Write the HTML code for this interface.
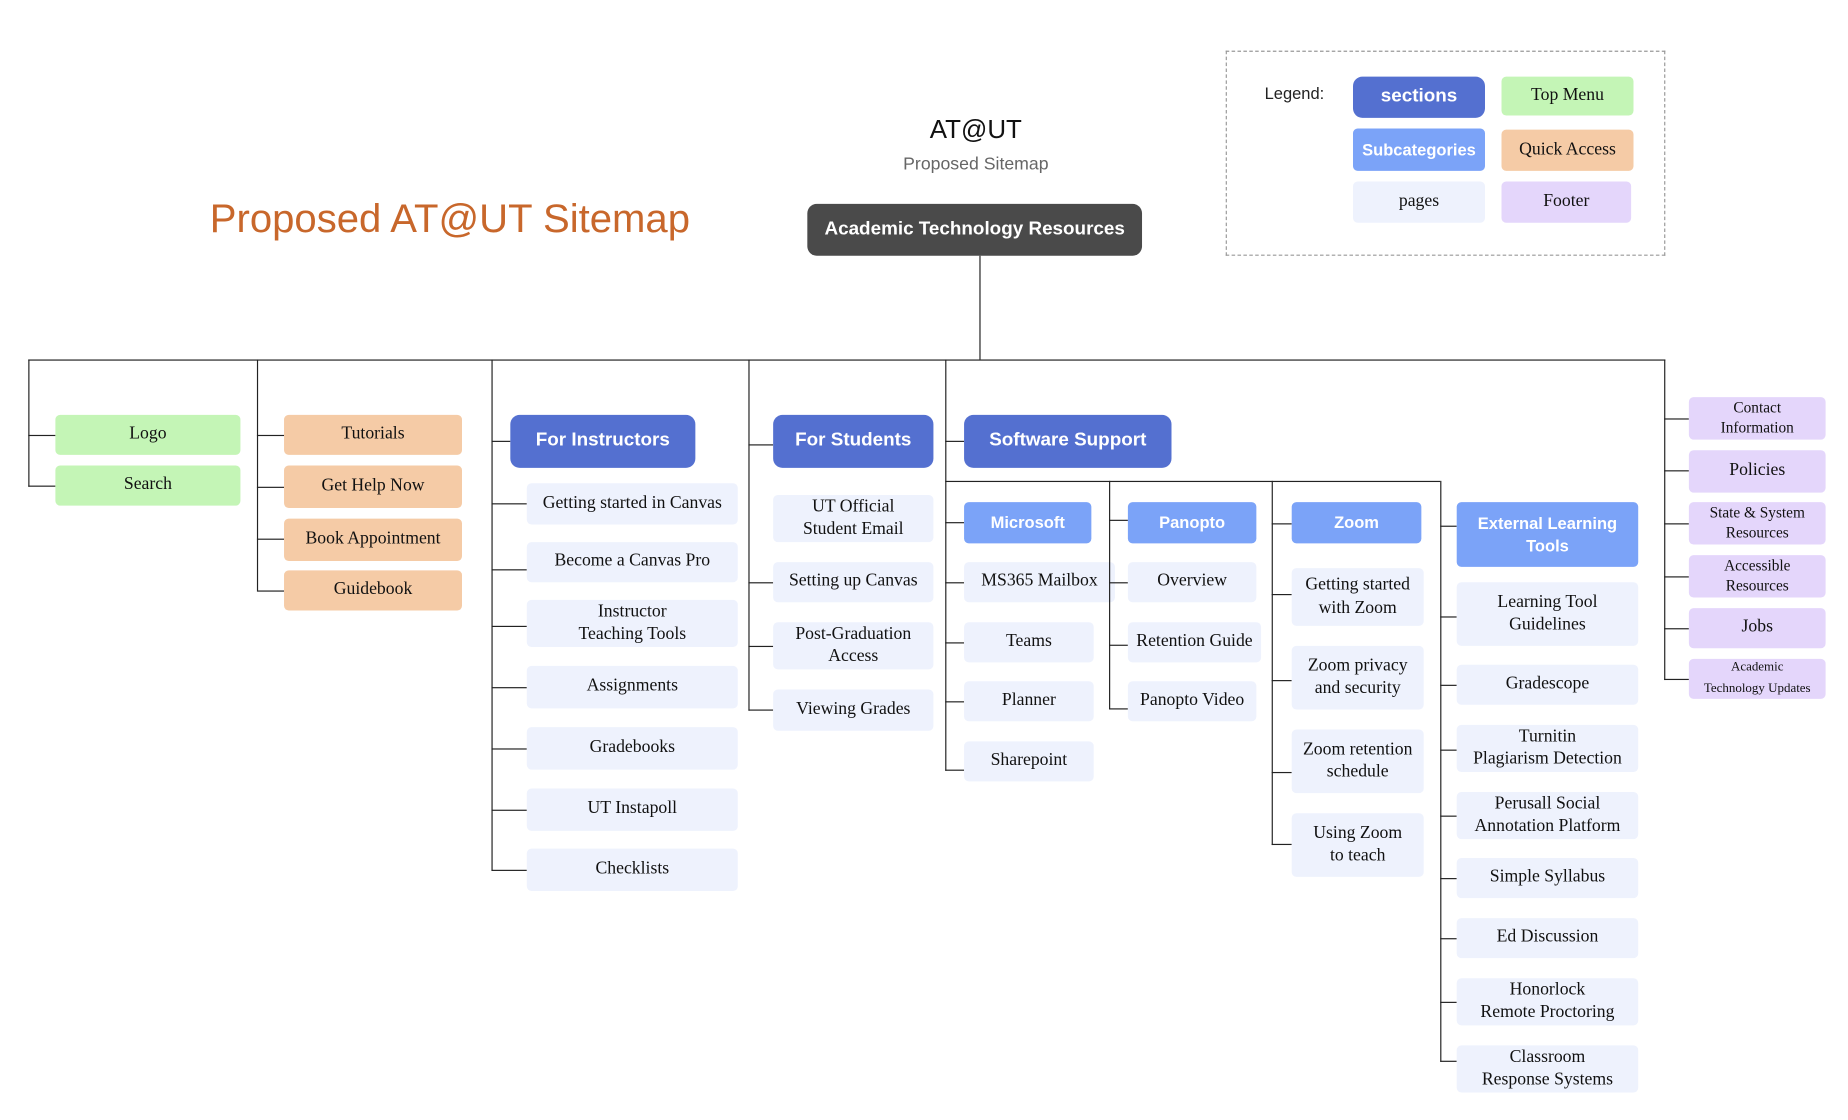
<!DOCTYPE html>
<html><head><meta charset="utf-8"><style>
html,body{margin:0;padding:0;background:#fff;width:1848px;height:1120px;overflow:hidden}
#w{position:absolute;left:0;top:0;width:1568px;height:950px;transform:scale(1.17857);transform-origin:0 0}
.b{position:absolute;display:flex;align-items:center;justify-content:center;text-align:center;box-sizing:border-box;border-radius:4px;line-height:1.3}
.p{background:#eef2fd;font-family:"Liberation Serif",serif;font-size:15px;color:#111}
.g{background:#c4f5b6;font-family:"Liberation Serif",serif;font-size:15px;color:#111}
.o{background:#f5cba6;font-family:"Liberation Serif",serif;font-size:15px;color:#111}
.f{background:#e4d6fb;font-family:"Liberation Serif",serif;font-size:15px;color:#111}
.s{background:#5470d0;color:#fff;font-family:"Liberation Sans",sans-serif;font-weight:bold;font-size:16px;border-radius:8px}
.c{background:#7ba3f8;color:#fff;font-family:"Liberation Sans",sans-serif;font-weight:bold;font-size:14px}
.h{position:absolute;height:1px;background:#222}
.v{position:absolute;width:1px;background:#222}
.t{position:absolute;font-family:"Liberation Sans",sans-serif}
</style></head><body><div id="w">
<div class="t" style="left:728px;top:97px;width:200px;text-align:center;font-size:22px;color:#111">AT@UT</div>
<div class="t" style="left:728px;top:131px;width:200px;text-align:center;font-size:15px;color:#666">Proposed Sitemap</div>
<div class="t" style="left:178px;top:167px;font-size:34px;color:#c8672b;white-space:nowrap">Proposed AT@UT Sitemap</div>
<div class="b" style="left:685px;top:173px;width:284px;height:44px;background:#4a4a4a;color:#fff;font-family:'Liberation Sans',sans-serif;font-weight:bold;font-size:16px;border-radius:8px">Academic Technology Resources</div>

<div style="position:absolute;left:1040px;top:43px;width:373px;height:174px;border:1px dashed #999;box-sizing:border-box"></div>
<div class="t" style="left:1073px;top:71px;font-size:14px;color:#222">Legend:</div>
<div class="b s" style="left:1148px;top:65px;width:112px;height:35px">sections</div>
<div class="b g" style="left:1274px;top:65px;width:112px;height:33px">Top Menu</div>
<div class="b c" style="left:1148px;top:109px;width:112px;height:36px">Subcategories</div>
<div class="b o" style="left:1274px;top:110px;width:112px;height:35px">Quick Access</div>
<div class="b p" style="left:1148px;top:154px;width:112px;height:35px">pages</div>
<div class="b f" style="left:1274px;top:154px;width:110px;height:35px">Footer</div>

<div class="v" style="left:831px;top:217px;height:88px"></div>
<div class="h" style="left:24px;top:305px;width:1389px"></div>

<div class="v" style="left:24px;top:305px;height:108px"></div>
<div class="h" style="left:24px;top:369px;width:23px"></div>
<div class="h" style="left:24px;top:412px;width:23px"></div>
<div class="b g" style="left:47px;top:352px;width:157px;height:34px">Logo</div>
<div class="b g" style="left:47px;top:395px;width:157px;height:34px">Search</div>

<div class="v" style="left:218px;top:305px;height:196px"></div>
<div class="h" style="left:218px;top:369px;width:23px"></div>
<div class="h" style="left:218px;top:413px;width:23px"></div>
<div class="h" style="left:218px;top:457px;width:23px"></div>
<div class="h" style="left:218px;top:501px;width:23px"></div>
<div class="b o" style="left:241px;top:352px;width:151px;height:34px">Tutorials</div>
<div class="b o" style="left:241px;top:395px;width:151px;height:36px">Get Help Now</div>
<div class="b o" style="left:241px;top:440px;width:151px;height:36px">Book Appointment</div>
<div class="b o" style="left:241px;top:484px;width:151px;height:34px">Guidebook</div>

<div class="v" style="left:417px;top:305px;height:434px"></div>
<div class="h" style="left:417px;top:374px;width:16px"></div>
<div class="b s" style="left:433px;top:352px;width:157px;height:45px">For Instructors</div>
<div class="h" style="left:417px;top:427px;width:30px"></div>
<div class="h" style="left:417px;top:483px;width:30px"></div>
<div class="h" style="left:417px;top:531px;width:30px"></div>
<div class="h" style="left:417px;top:583px;width:30px"></div>
<div class="h" style="left:417px;top:635px;width:30px"></div>
<div class="h" style="left:417px;top:687px;width:30px"></div>
<div class="h" style="left:417px;top:738px;width:30px"></div>
<div class="b p" style="left:447px;top:410px;width:179px;height:35px;white-space:nowrap">Getting started in Canvas</div>
<div class="b p" style="left:447px;top:460px;width:179px;height:34px">Become a Canvas Pro</div>
<div class="b p" style="left:447px;top:509px;width:179px;height:40px">Instructor<br>Teaching Tools</div>
<div class="b p" style="left:447px;top:565px;width:179px;height:36px">Assignments</div>
<div class="b p" style="left:447px;top:617px;width:179px;height:36px">Gradebooks</div>
<div class="b p" style="left:447px;top:669px;width:179px;height:36px">UT Instapoll</div>
<div class="b p" style="left:447px;top:720px;width:179px;height:36px">Checklists</div>

<div class="v" style="left:635px;top:305px;height:298px"></div>
<div class="h" style="left:635px;top:377px;width:21px"></div>
<div class="b s" style="left:656px;top:352px;width:136px;height:45px">For Students</div>
<div class="h" style="left:635px;top:494px;width:21px"></div>
<div class="h" style="left:635px;top:548px;width:21px"></div>
<div class="h" style="left:635px;top:602px;width:21px"></div>
<div class="b p" style="left:656px;top:420px;width:136px;height:40px">UT Official<br>Student Email</div>
<div class="b p" style="left:656px;top:477px;width:136px;height:34px">Setting up Canvas</div>
<div class="b p" style="left:656px;top:528px;width:136px;height:40px">Post-Graduation<br>Access</div>
<div class="b p" style="left:656px;top:585px;width:136px;height:35px">Viewing Grades</div>

<div class="v" style="left:802px;top:305px;height:349px"></div>
<div class="h" style="left:802px;top:374px;width:16px"></div>
<div class="b s" style="left:818px;top:352px;width:176px;height:45px">Software Support</div>
<div class="h" style="left:802px;top:408px;width:420px"></div>
<div class="h" style="left:802px;top:443px;width:16px"></div>
<div class="h" style="left:802px;top:494px;width:16px"></div>
<div class="h" style="left:802px;top:545px;width:16px"></div>
<div class="h" style="left:802px;top:595px;width:16px"></div>
<div class="h" style="left:802px;top:653px;width:16px"></div>
<div class="b c" style="left:818px;top:426px;width:108px;height:35px">Microsoft</div>
<div class="b p" style="left:818px;top:477px;width:128px;height:34px">MS365 Mailbox</div>
<div class="b p" style="left:818px;top:528px;width:110px;height:34px">Teams</div>
<div class="b p" style="left:818px;top:578px;width:110px;height:34px">Planner</div>
<div class="b p" style="left:818px;top:629px;width:110px;height:34px">Sharepoint</div>

<div class="v" style="left:941px;top:408px;height:194px"></div>
<div class="h" style="left:941px;top:441px;width:16px"></div>
<div class="h" style="left:941px;top:494px;width:16px"></div>
<div class="h" style="left:941px;top:547px;width:16px"></div>
<div class="h" style="left:941px;top:601px;width:16px"></div>
<div class="b c" style="left:957px;top:426px;width:109px;height:35px">Panopto</div>
<div class="b p" style="left:957px;top:477px;width:109px;height:34px">Overview</div>
<div class="b p" style="left:957px;top:528px;width:113px;height:34px;white-space:nowrap">Retention Guide</div>
<div class="b p" style="left:957px;top:578px;width:109px;height:34px">Panopto Video</div>

<div class="v" style="left:1079px;top:408px;height:309px"></div>
<div class="h" style="left:1079px;top:444px;width:17px"></div>
<div class="h" style="left:1079px;top:504px;width:17px"></div>
<div class="h" style="left:1079px;top:577px;width:17px"></div>
<div class="h" style="left:1079px;top:655px;width:17px"></div>
<div class="h" style="left:1079px;top:716px;width:17px"></div>
<div class="b c" style="left:1096px;top:426px;width:110px;height:35px">Zoom</div>
<div class="b p" style="left:1096px;top:482px;width:112px;height:49px">Getting started<br>with Zoom</div>
<div class="b p" style="left:1096px;top:548px;width:112px;height:54px">Zoom privacy<br>and security</div>
<div class="b p" style="left:1096px;top:619px;width:112px;height:54px;white-space:nowrap">Zoom retention<br>schedule</div>
<div class="b p" style="left:1096px;top:690px;width:112px;height:54px">Using Zoom<br>to teach</div>

<div class="v" style="left:1222px;top:408px;height:493px"></div>
<div class="h" style="left:1222px;top:446px;width:14px"></div>
<div class="h" style="left:1222px;top:523px;width:14px"></div>
<div class="h" style="left:1222px;top:581px;width:14px"></div>
<div class="h" style="left:1222px;top:636px;width:14px"></div>
<div class="h" style="left:1222px;top:692px;width:14px"></div>
<div class="h" style="left:1222px;top:745px;width:14px"></div>
<div class="h" style="left:1222px;top:796px;width:14px"></div>
<div class="h" style="left:1222px;top:850px;width:14px"></div>
<div class="h" style="left:1222px;top:900px;width:14px"></div>
<div class="b c" style="left:1236px;top:426px;width:154px;height:55px">External Learning<br>Tools</div>
<div class="b p" style="left:1236px;top:494px;width:154px;height:54px">Learning Tool<br>Guidelines</div>
<div class="b p" style="left:1236px;top:564px;width:154px;height:34px">Gradescope</div>
<div class="b p" style="left:1236px;top:615px;width:154px;height:40px">Turnitin<br>Plagiarism Detection</div>
<div class="b p" style="left:1236px;top:672px;width:154px;height:40px">Perusall Social<br>Annotation Platform</div>
<div class="b p" style="left:1236px;top:728px;width:154px;height:34px">Simple Syllabus</div>
<div class="b p" style="left:1236px;top:779px;width:154px;height:34px">Ed Discussion</div>
<div class="b p" style="left:1236px;top:830px;width:154px;height:40px">Honorlock<br>Remote Proctoring</div>
<div class="b p" style="left:1236px;top:887px;width:154px;height:40px">Classroom<br>Response Systems</div>

<div class="v" style="left:1412px;top:305px;height:272px"></div>
<div class="h" style="left:1412px;top:355px;width:21px"></div>
<div class="h" style="left:1412px;top:399px;width:21px"></div>
<div class="h" style="left:1412px;top:444px;width:21px"></div>
<div class="h" style="left:1412px;top:489px;width:21px"></div>
<div class="h" style="left:1412px;top:533px;width:21px"></div>
<div class="h" style="left:1412px;top:576px;width:21px"></div>
<div class="b f" style="left:1433px;top:337px;width:116px;height:36px;font-size:13px">Contact<br>Information</div>
<div class="b f" style="left:1433px;top:382px;width:116px;height:36px">Policies</div>
<div class="b f" style="left:1433px;top:426px;width:116px;height:36px;font-size:13px">State &amp; System<br>Resources</div>
<div class="b f" style="left:1433px;top:471px;width:116px;height:36px;font-size:13px">Accessible<br>Resources</div>
<div class="b f" style="left:1433px;top:516px;width:116px;height:34px">Jobs</div>
<div class="b f" style="left:1433px;top:559px;width:116px;height:34px;font-size:11px;line-height:1.6">Academic<br>Technology Updates</div>
</div></body></html>
